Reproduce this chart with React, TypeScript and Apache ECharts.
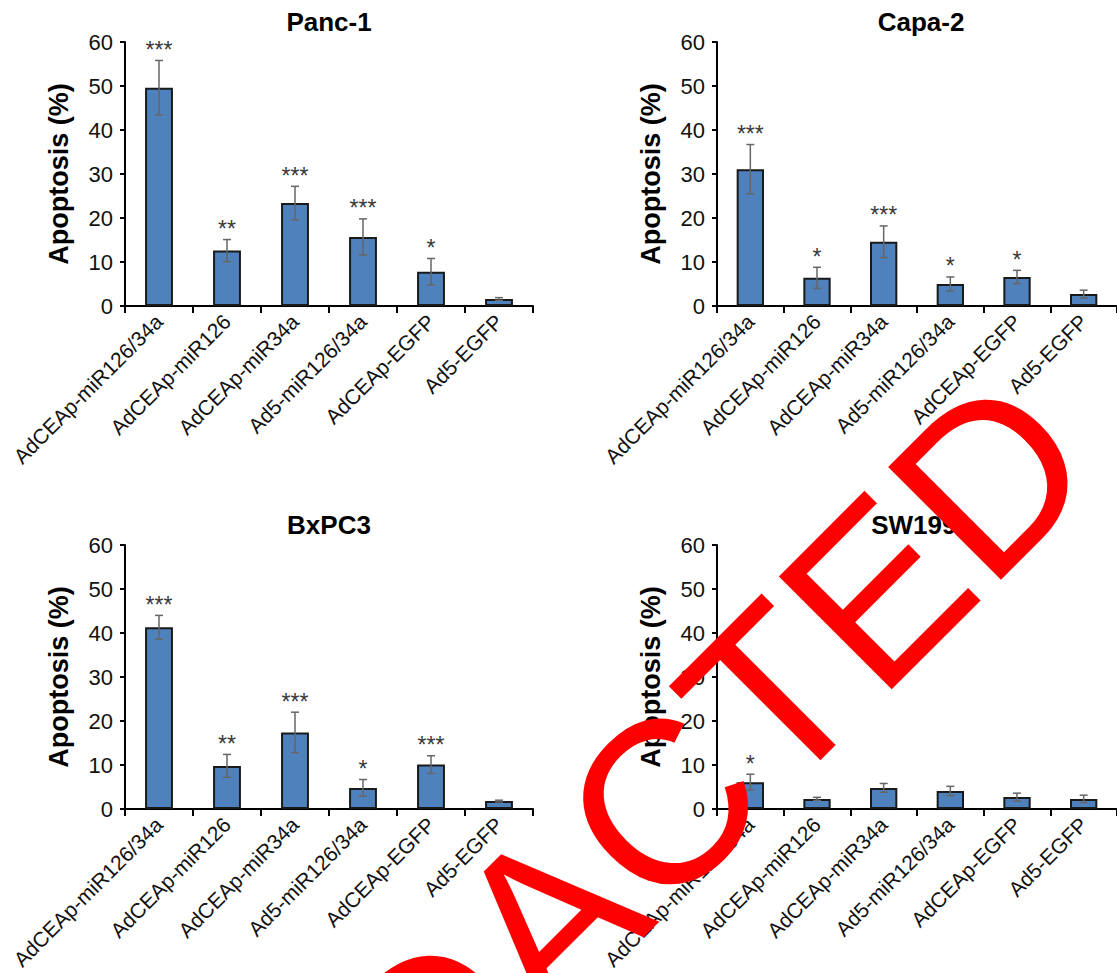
import React, { useEffect, useRef } from "react";
import * as echarts from "echarts";

const categories = [
  "AdCEAp-miR126/34a",
  "AdCEAp-miR126",
  "AdCEAp-miR34a",
  "Ad5-miR126/34a",
  "AdCEAp-EGFP",
  "Ad5-EGFP",
];

const panelTitles = ["Panc-1", "Capa-2", "BxPC3", "SW1990"];

const panc1Mean = [49.6, 12.6, 23.4, 15.7, 7.8, 1.6];
const panc1Err = [6.2, 2.5, 3.8, 4.1, 3.0, 0.3];
const panc1Sig = ["***", "**", "***", "***", "*", ""];

const capa2Mean = [31.1, 6.4, 14.6, 5.0, 6.6, 2.7];
const capa2Err = [5.6, 2.4, 3.6, 1.6, 1.5, 0.9];
const capa2Sig = ["***", "*", "***", "*", "*", ""];

const bxpc3Mean = [41.3, 9.8, 17.4, 4.8, 10.1, 1.8];
const bxpc3Err = [2.7, 2.6, 4.6, 1.9, 2.0, 0.2];
const bxpc3Sig = ["***", "**", "***", "*", "***", ""];

const sw1990Mean = [6.1, 2.3, 4.8, 4.1, 2.7, 2.3];
const sw1990Err = [1.8, 0.35, 1.0, 1.05, 0.9, 0.85];
const sw1990Sig = ["*", "", "", "", "", ""];

const yMin = 0;
const yMax = 60;
const yInterval = 10;
const yAxisName = "Apoptosis (%)";
const watermark = "REDACTED";

const panels = [
  { title: panelTitles[0], mean: panc1Mean, err: panc1Err, sig: panc1Sig },
  { title: panelTitles[1], mean: capa2Mean, err: capa2Err, sig: capa2Sig },
  { title: panelTitles[2], mean: bxpc3Mean, err: bxpc3Err, sig: bxpc3Sig },
  { title: panelTitles[3], mean: sw1990Mean, err: sw1990Err, sig: sw1990Sig },
];

const gridLefts = [125, 717, 125, 717];
const gridTops = [42, 42, 545, 545];
const gridW = 408;
const gridH = 264;

const FONT = '"Liberation Sans", Arial, Helvetica, sans-serif';

export default function App() {
  const ref = useRef<HTMLDivElement>(null);
  useEffect(() => {
    document.body.style.margin = "0";
    if (!ref.current) return;
    const chart = echarts.init(ref.current, undefined, { renderer: "svg" });

    const grids: any[] = [];
    const xAxes: any[] = [];
    const yAxes: any[] = [];
    const series: any[] = [];
    const titles: any[] = [];

    panels.forEach((p, k) => {
      grids.push({
        left: gridLefts[k],
        top: gridTops[k],
        width: gridW,
        height: gridH,
        containLabel: false,
      });
      titles.push({
        text: p.title,
        left: gridLefts[k] + gridW / 2,
        top: gridTops[k] - 33,
        textAlign: "center",
        padding: 0,
        textStyle: {
          fontFamily: FONT,
          fontSize: 26,
          fontWeight: "bold",
          color: "#000",
        },
      });
      xAxes.push({
        type: "category",
        gridIndex: k,
        data: categories,
        boundaryGap: true,
        axisLine: { show: true, lineStyle: { color: "#000", width: 2 } },
        axisTick: { show: true, length: 7, lineStyle: { color: "#000", width: 2 } },
        axisLabel: {
          interval: 0,
          rotate: 45,
          margin: 12,
          fontFamily: FONT,
          fontSize: 21,
          color: "#111",
        },
        splitLine: { show: false },
      });
      yAxes.push({
        type: "value",
        gridIndex: k,
        min: yMin,
        max: yMax,
        interval: yInterval,
        name: yAxisName,
        nameLocation: "middle",
        nameRotate: 90,
        nameGap: 53,
        nameTextStyle: {
          fontFamily: FONT,
          fontSize: 27,
          fontWeight: "bold",
          color: "#000",
        },
        axisLine: { show: true, lineStyle: { color: "#000", width: 2 } },
        axisTick: { show: true, length: 5, lineStyle: { color: "#000", width: 2 } },
        axisLabel: {
          margin: 12,
          fontFamily: FONT,
          fontSize: 22,
          color: "#111",
        },
        splitLine: { show: false },
      });
      series.push({
        type: "bar",
        xAxisIndex: k,
        yAxisIndex: k,
        data: p.mean,
        barWidth: "41%",
        itemStyle: { color: "#4F81BD", borderColor: "#1a1a1a", borderWidth: 2 },
        z: 2,
      });
      const errData = p.mean.map((m, i) => [i, m, p.err[i]]);
      series.push({
        type: "custom",
        xAxisIndex: k,
        yAxisIndex: k,
        data: errData,
        z: 5,
        renderItem: (params: any, api: any) => {
          const i = api.value(0);
          const m = api.value(1);
          const e = api.value(2);
          const s = p.sig[i];
          const top = api.coord([i, m + e]);
          const bot = api.coord([i, m - e]);
          const cap = 4;
          const st = { stroke: "#666", lineWidth: 1.5 };
          const children: any[] = [
            { type: "line", shape: { x1: top[0], y1: top[1], x2: bot[0], y2: bot[1] }, style: st },
            { type: "line", shape: { x1: top[0] - cap, y1: top[1], x2: top[0] + cap, y2: top[1] }, style: st },
            { type: "line", shape: { x1: bot[0] - cap, y1: bot[1], x2: bot[0] + cap, y2: bot[1] }, style: st },
          ];
          if (s) {
            children.push({
              type: "text",
              x: top[0],
              y: top[1] + 1,
              style: {
                text: s,
                textAlign: "center",
                textVerticalAlign: "bottom",
                fontFamily: FONT,
                fontSize: 23,
                fill: "#3a3a3a",
              },
            });
          }
          return { type: "group", children };
        },
      });
    });

    chart.setOption({
      animation: false,
      backgroundColor: "#fff",
      title: titles,
      grid: grids,
      xAxis: xAxes,
      yAxis: yAxes,
      series,
      graphic: [
        {
          type: "text",
          x: 598,
          y: 869,
          rotation: Math.PI / 4,
          z: 100,
          style: {
            text: watermark,
            textAlign: "center",
            textVerticalAlign: "middle",
            fontFamily: FONT,
            fontSize: 232,
            fill: "#ff0000",
          },
        },
      ],
    });

    return () => chart.dispose();
  }, []);

  return <div ref={ref} style={{ width: 1117, height: 973 }} />;
}
